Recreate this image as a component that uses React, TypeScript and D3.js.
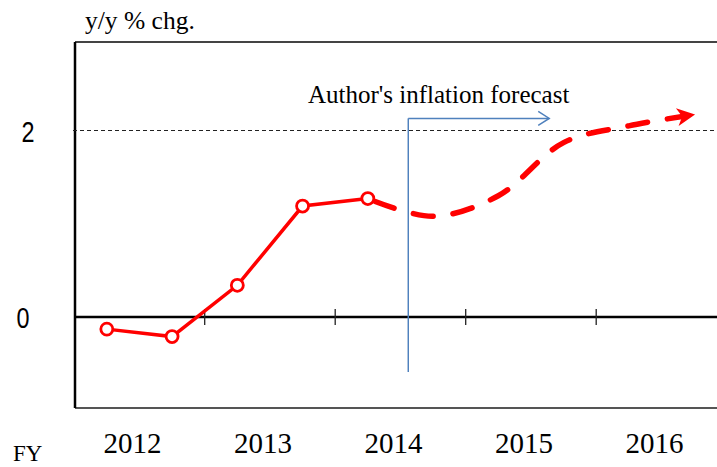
import * as d3 from "d3";

// fiscal years on the axis, half-year observations
const years = [2012, 2013, 2014, 2015, 2016];
const actualPeriods = ["2012H1", "2012H2", "2013H1", "2013H2", "2014H1"];
const actualValues = [-0.13, -0.21, 0.34, 1.19, 1.27];
const forecastPeriods = ["2014H1", "2014H2", "2015H1", "2015H2", "2016H1", "2016H2"];
const forecastValues = [1.27, 1.08, 1.3, 1.87, 2.05, 2.17];
const yTicks = [0, 2];
const targetLevel = 2;
// annotation: forecast starts early FY2014
const forecastStart = 2014.06;
const forecastArrowEnd = 2015.14;
const forecastArrowLevel = 2.13;
const forecastLineBottom = -0.59;

const W = 717;
const H = 467;
const PLOT = { left: 75, right: 717, top: 42, bottom: 408 };

const SERIF = "'Times New Roman', 'Liberation Serif', serif";
const SANS = "Arial, 'Liberation Sans', sans-serif";

function periodX(p: string) {
  const yr = +p.slice(0, 4);
  return p.endsWith("H1") ? yr - 0.25 : yr + 0.25;
}

export default function App() {
  const x = d3.scaleLinear().domain([2011.5, 2016.5]).range([74.2, 726.7]);
  const y = d3.scaleLinear().domain([0, 2]).range([317, 130.5]);

  const actual = actualPeriods.map((p, i) => ({ x: periodX(p), v: actualValues[i] }));
  const forecast = forecastPeriods.map((p, i) => ({ x: periodX(p), v: forecastValues[i] }));

  const solid = d3.line<{ x: number; v: number }>()
    .x((d) => x(d.x))
    .y((d) => y(d.v));
  const smooth = d3.line<{ x: number; v: number }>()
    .x((d) => x(d.x))
    .y((d) => y(d.v))
    .curve(d3.curveCatmullRom.alpha(0.5));

  const fx = x(forecastStart);
  const fxEnd = x(forecastArrowEnd);
  const fy = y(forecastArrowLevel);

  return (
    <svg
      width={W}
      height={H}
      viewBox={`0 0 ${W} ${H}`}
      style={{ position: "absolute", left: 0, top: 0, background: "#fff" }}
    >
      <defs>
        <marker
          id="redArrow"
          markerUnits="userSpaceOnUse"
          markerWidth={22}
          markerHeight={22}
          viewBox="-2 -11 22 22"
          refX={17}
          refY={0}
          orient="auto"
        >
          <path d="M0,-9 L18,0 L0,9 L5,0 Z" fill="#ff0000" />
        </marker>
      </defs>

      {/* frame */}
      <line x1={PLOT.left} x2={PLOT.right} y1={PLOT.top} y2={PLOT.top} stroke="#444" strokeWidth={2} />
      <line x1={PLOT.left} x2={PLOT.right} y1={PLOT.bottom} y2={PLOT.bottom} stroke="#555" strokeWidth={2} />
      <line x1={PLOT.left} x2={PLOT.left} y1={PLOT.top} y2={PLOT.bottom} stroke="#000" strokeWidth={2.5} />

      {/* target level dashed line */}
      <line
        x1={PLOT.left - 2}
        x2={PLOT.right}
        y1={y(targetLevel)}
        y2={y(targetLevel)}
        stroke="#222"
        strokeWidth={1.2}
        strokeDasharray="4,3"
      />

      {/* zero line with year-boundary ticks */}
      <line x1={PLOT.left} x2={PLOT.right} y1={y(0)} y2={y(0)} stroke="#000" strokeWidth={2.5} />
      {years.slice(0, -1).map((yr) => (
        <line
          key={yr}
          x1={x(yr + 0.5)}
          x2={x(yr + 0.5)}
          y1={y(0) - 8}
          y2={y(0) + 8}
          stroke="#222"
          strokeWidth={1.3}
        />
      ))}

      {/* y tick labels */}
      {yTicks.map((t) => (
        <text
          key={t}
          transform={`translate(${t === 0 ? 23 : 28},${y(t) + 1}) scale(0.78,1)`}
          textAnchor="middle"
          dominantBaseline="central"
          fontFamily={SANS}
          fontSize={30}
          fill="#000"
        >
          {t}
        </text>
      ))}

      {/* year labels */}
      {years.map((yr) => (
        <text
          key={yr}
          x={x(yr) - 7}
          y={453}
          textAnchor="middle"
          fontFamily={SERIF}
          fontSize={29}
          fill="#000"
        >
          {yr}
        </text>
      ))}
      <text x={13} y={461} fontFamily={SERIF} fontSize={23} fill="#000">FY</text>
      <text x={85} y={29} fontFamily={SERIF} fontSize={25.5} fill="#000">y/y % chg.</text>

      {/* forecast annotation */}
      <text x={308} y={103} fontFamily={SERIF} fontSize={25} fill="#000">
        Author's inflation forecast
      </text>
      <g stroke="#4f81bd" strokeWidth={1.5} fill="none">
        <line x1={fx} x2={fx} y1={fy} y2={y(forecastLineBottom)} />
        <line x1={fx} x2={fxEnd} y1={fy} y2={fy} />
        <polyline points={`${fxEnd - 11},${fy - 7} ${fxEnd},${fy} ${fxEnd - 11},${fy + 7}`} />
      </g>

      {/* forecast dashed path */}
      <path
        d={smooth(forecast) ?? ""}
        fill="none"
        stroke="#ff0000"
        strokeWidth={5.5}
        strokeDasharray="20,20"
        strokeDashoffset={-8}
        strokeLinecap="round"
        markerEnd="url(#redArrow)"
      />

      {/* actual */}
      <path d={solid(actual) ?? ""} fill="none" stroke="#ff0000" strokeWidth={3.5} />
      {actual.map((d, i) => (
        <circle key={i} cx={x(d.x)} cy={y(d.v)} r={6} fill="#fff" stroke="#ff0000" strokeWidth={2.8} />
      ))}
    </svg>
  );
}
